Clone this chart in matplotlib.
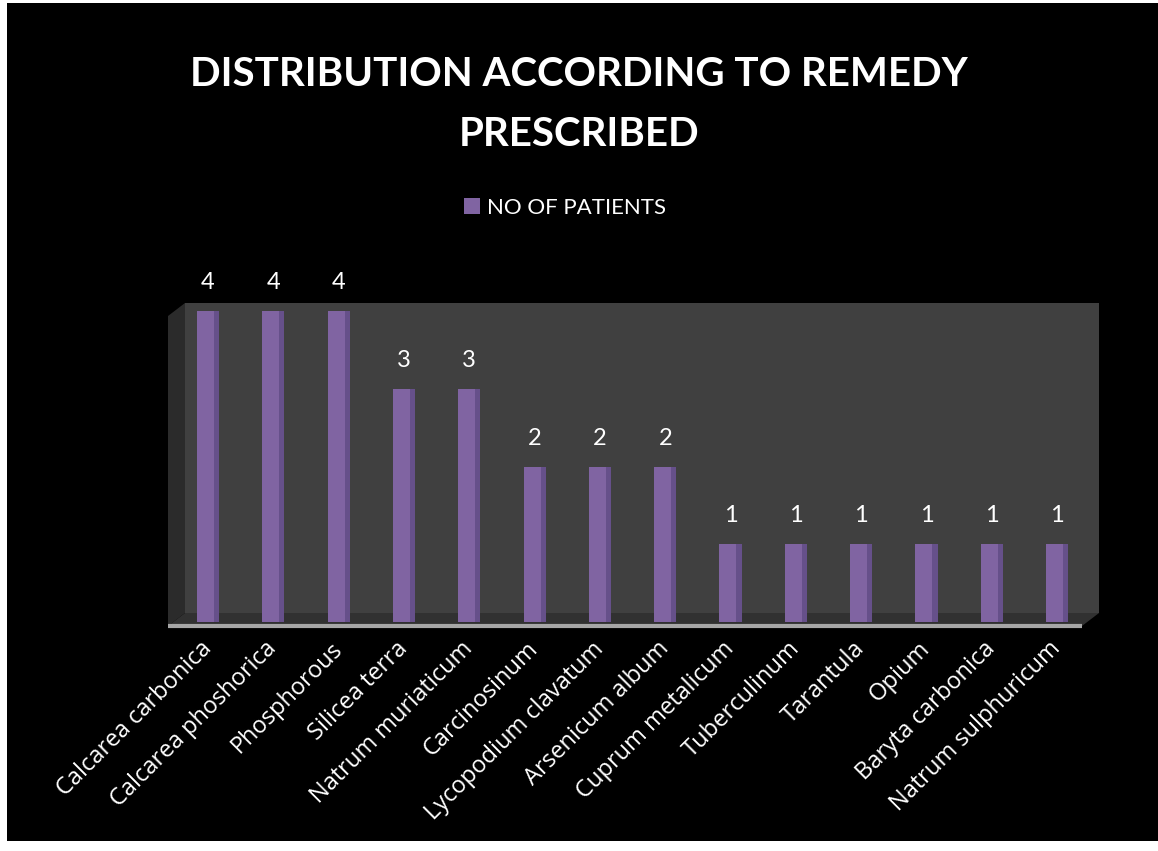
import matplotlib
matplotlib.use('Agg')
from matplotlib import pyplot as plt
from matplotlib.patches import Polygon, Rectangle

remedies = ['Calcarea carbonica', 'Calcarea phoshorica', 'Phosphorous', 'Silicea terra',
            'Natrum muriaticum', 'Carcinosinum', 'Lycopodium clavatum', 'Arsenicum album',
            'Cuprum metalicum', 'Tuberculinum', 'Tarantula', 'Opium', 'Baryta carbonica',
            'Natrum sulphuricum']
patients = [4, 4, 4, 3, 3, 2, 2, 2, 1, 1, 1, 1, 1, 1]
title_lines = ['DISTRIBUTION ACCORDING TO REMEDY', 'PRESCRIBED']

plt.rcParams['font.family'] = ['Lato', 'DejaVu Sans']

W, H = 1158, 851
fig = plt.figure(figsize=(W / 100, H / 100), dpi=100, facecolor='white')
# black chart area with white margin on left / top / bottom
bg = Rectangle((7 / W, 10 / H), 1, 1 - 13 / H, transform=fig.transFigure,
               facecolor='black', edgecolor='none', zorder=-5)
fig.patches.append(bg)

left, right, top, bottom = 168, 1099, 303, 626
ax = fig.add_axes([left / W, 1 - bottom / H, (right - left) / W, (bottom - top) / H])
ax.set_zorder(2)
ax.set_facecolor('none')
for s in ax.spines.values():
    s.set_visible(False)

# pseudo 3D box: back wall, side wall, floor
dx = (185 - left) / (right - left)
dy = (bottom - 613) / (bottom - top)
ax.add_patch(Polygon([(dx, dy), (1, dy), (1, 1), (dx, 1)], closed=True, transform=ax.transAxes,
                     facecolor='#404040', edgecolor='none', zorder=0))
ax.add_patch(Polygon([(0, 0), (0, 1 - dy), (dx, 1), (dx, dy)], closed=True, transform=ax.transAxes,
                     facecolor='#2b2b2b', edgecolor='none', zorder=0))
ax.add_patch(Polygon([(0, 0), (dx, dy), (1, dy), (1 - dx, 0)], closed=True, transform=ax.transAxes,
                     facecolor='#313131', edgecolor='none', zorder=0))
ax.plot([0, 1 - dx], [0, 0], transform=ax.transAxes, color='#a6a6a6', lw=3,
        solid_capstyle='butt', clip_on=False, zorder=1)

x = list(range(len(remedies)))
bw = 0.34
ax.bar(x, patients, width=bw, color='#8064a2', zorder=2, label='NO OF PATIENTS')
ax.bar([i + bw / 2 - 0.04 for i in x], patients, width=0.08, color='#66508a', zorder=3)

for i, v in zip(x, patients):
    ax.annotate(str(v), (i, v), xytext=(0, 13), textcoords='offset points',
                ha='center', va='bottom', color='white', fontsize=17)

ax.set_xlim(-0.613, 13.64)
ax.set_ylim(-0.05, 4.105)
ax.set_yticks([])
ax.set_xticks(x)
ax.set_xticklabels(remedies, rotation=45, ha='right', va='center', rotation_mode='anchor',
                   color='white', fontsize=17, family=['Open Sans', 'DejaVu Sans'])
ax.tick_params(axis='x', length=0, pad=14)

for line, ypix in zip(title_lines, [75, 135]):
    fig.text(0.5, 1 - ypix / H, line, ha='center', va='center', color='white',
             fontsize=29, fontweight='bold')

leg = ax.legend(loc='center', bbox_to_anchor=(0.488, 1 - 208 / H), bbox_transform=fig.transFigure,
                frameon=False, fontsize=16, labelcolor='white', handlelength=0.7,
                handleheight=0.7, handletextpad=0.3)

fig.savefig('out.png', dpi=100, facecolor=fig.get_facecolor())
